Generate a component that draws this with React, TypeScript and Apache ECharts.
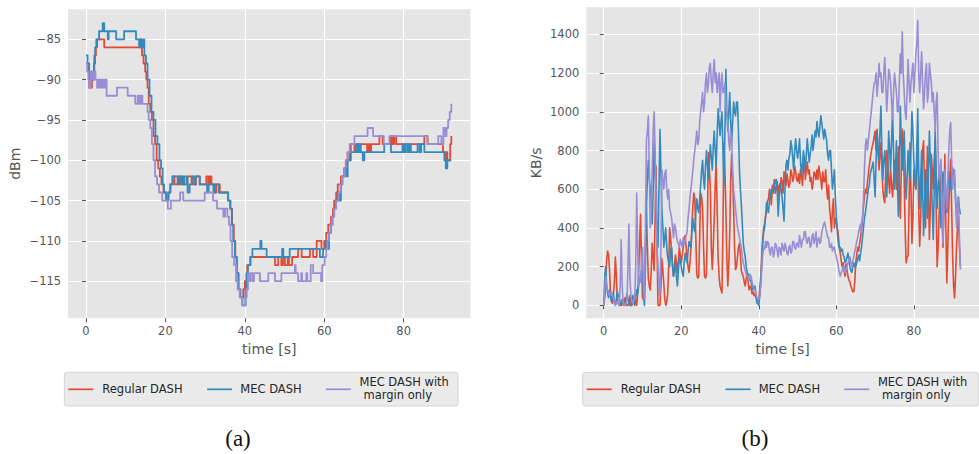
import React, { useEffect, useRef } from 'react';
import * as echarts from 'echarts';

// ---------- axis ticks ----------
const TIME_TICKS = [0, 20, 40, 60, 80];
const RSSI_TICKS = [-115, -110, -105, -100, -95, -90, -85];
const RATE_TICKS = [0, 200, 400, 600, 800, 1000, 1200, 1400];

const SERIES_NAMES = ['Regular DASH', 'MEC DASH', 'MEC DASH with margin only'];
const COLORS = ['#E24A33', '#348ABD', '#988ED5'];

// ---------- (a) signal strength, change points [time s, dBm] ----------
const rssiRegular: [number, number][] = [
  [0, -88], [0.5, -89], [0.8, -91], [1.5, -90], [1.8, -89], [2.1, -87], [2.5, -86], [2.8, -85], [4.6, -86],
  [13.5, -85], [13.8, -86], [14.1, -87], [14.5, -88], [14.9, -89], [15.2, -90], [15.5, -91], [15.8, -93],
  [16.2, -94], [16.6, -95], [17.0, -97], [17.4, -98], [17.8, -100], [18.2, -101], [18.6, -102], [19.0, -103],
  [19.5, -104], [20.2, -105], [20.8, -104], [21.3, -103], [21.8, -102], [22.3, -103], [23.1, -102], [23.6, -103],
  [24.0, -102], [24.4, -103], [25.6, -102], [26.9, -103], [27.7, -102], [28.6, -103], [30.3, -102], [30.8, -103],
  [31.2, -102], [31.6, -103], [32.4, -104], [32.8, -103], [33.7, -104], [35.8, -105], [36.4, -106], [36.8, -108],
  [37.2, -110], [37.6, -112], [38.0, -114], [38.4, -116], [38.8, -117], [39.6, -116], [40.0, -115], [40.2, -117],
  [40.4, -114], [40.6, -113], [41.4, -112], [47.6, -113], [48.4, -112], [49.2, -113], [49.6, -112], [50.1, -113],
  [50.8, -112], [51.1, -113], [51.9, -112], [53.4, -111], [54.3, -112], [56.4, -111], [57.2, -112], [58.1, -110],
  [59.3, -111], [60.0, -110], [60.5, -109], [61.0, -108], [61.7, -107], [62.2, -106], [62.5, -105], [63.0, -104],
  [63.4, -103], [64.2, -102], [65.0, -101], [65.5, -100], [66.3, -99], [66.7, -98], [67.6, -99], [68.2, -98],
  [70.8, -99], [71.1, -98], [71.4, -99], [71.8, -98], [73.9, -97], [74.7, -98], [76.8, -97], [77.2, -98],
  [77.6, -97], [78.1, -98], [85.2, -97], [86.0, -98], [89.9, -99], [90.3, -100], [90.6, -99], [91.0, -100],
  [91.7, -98], [92.0, -97],
];

const rssiMec: [number, number][] = [
  [0, -87], [0.4, -88], [0.8, -89], [1.2, -90], [1.5, -89], [1.7, -90], [2.0, -88], [2.3, -86], [2.6, -85],
  [3.3, -84], [4.2, -83], [4.6, -84], [5.5, -85], [5.7, -84], [7.6, -85], [9.6, -84], [12.6, -85], [13.4, -86],
  [13.7, -85], [14.1, -86], [14.4, -85], [14.7, -87], [15.1, -88], [15.5, -90], [16.0, -92], [16.5, -94],
  [17.0, -95], [17.5, -97], [18.0, -98], [18.5, -100], [18.9, -101], [19.3, -103], [19.7, -104], [20.2, -105],
  [20.7, -104], [21.2, -103], [21.8, -102], [23.1, -103], [23.6, -102], [24.4, -103], [24.8, -102], [25.4, -103],
  [25.6, -104], [26.1, -103], [26.6, -102], [27.3, -103], [27.6, -102], [28.7, -103], [30.5, -104], [30.9, -103],
  [32.1, -104], [32.5, -103], [33.4, -104], [35.8, -105], [36.3, -106], [36.7, -108], [37.1, -110], [37.5, -112],
  [37.9, -114], [38.4, -116], [38.9, -117], [39.4, -118], [40.2, -116], [40.5, -114], [40.8, -113], [41.4, -112],
  [41.9, -111], [43.9, -110], [44.2, -111], [45.5, -112], [49.4, -111], [49.7, -112], [51.3, -111], [58.9, -112],
  [59.7, -111], [60.4, -110], [60.8, -111], [61.2, -109], [61.7, -108], [62.1, -107], [62.5, -106], [62.9, -105],
  [63.4, -104], [63.8, -105], [64.2, -103], [64.6, -102], [65.0, -101], [65.5, -102], [65.9, -100], [66.7, -99],
  [68.0, -98], [68.4, -99], [68.8, -98], [69.2, -99], [69.7, -100], [70.1, -99], [75.1, -98], [76.8, -99],
  [79.7, -98], [80.1, -99], [80.5, -98], [81.0, -99], [81.4, -98], [81.8, -99], [83.5, -98], [84.0, -99],
  [84.4, -98], [85.2, -99], [90.3, -100], [90.6, -101], [91.0, -100], [92.0, -100],
];

const rssiMargin: [number, number][] = [
  [0, -88], [0.3, -89], [0.6, -90], [0.8, -91], [1.2, -89], [1.6, -90], [2.0, -89], [2.4, -90], [2.8, -91],
  [3.2, -90], [3.6, -91], [4.0, -90], [4.4, -91], [4.8, -90], [5.2, -92], [7.8, -91], [10.5, -92], [12.4, -93],
  [13.0, -92], [13.4, -93], [13.8, -92], [14.2, -93], [15.5, -94], [15.8, -95], [16.2, -96], [16.6, -98],
  [17.0, -100], [17.4, -102], [17.9, -103], [18.4, -104], [19.2, -105], [20.6, -106], [21.4, -105], [23.7, -104],
  [24.5, -105], [29.9, -104], [32.0, -105], [33.0, -106], [34.6, -107], [35.0, -106], [35.6, -107], [36.0, -108],
  [36.4, -110], [36.8, -112], [37.3, -113], [37.8, -115], [38.2, -116], [38.7, -117], [39.3, -118], [40.1, -117],
  [40.4, -116], [40.8, -114], [41.2, -115], [41.5, -114], [42.0, -115], [42.3, -114], [43.8, -115], [45.9, -114],
  [47.6, -115], [49.2, -114], [52.6, -113], [52.8, -114], [53.4, -115], [54.2, -114], [54.4, -115], [55.5, -114],
  [55.7, -115], [56.6, -113], [57.2, -114], [59.2, -115], [59.5, -113], [60.1, -112], [60.5, -111], [60.8, -110],
  [61.2, -109], [61.6, -108], [62.0, -107], [62.5, -106], [63.0, -105], [63.6, -104], [64.1, -103], [64.5, -102],
  [65.0, -101], [65.4, -100], [65.8, -99], [66.4, -98], [67.6, -97], [70.9, -96], [72.3, -97], [75.0, -98],
  [76.4, -97], [86.0, -98], [88.7, -97], [89.5, -98], [90.0, -96], [90.4, -97], [90.8, -96], [91.2, -95],
  [91.6, -94], [92.0, -93],
];

// ---------- (b) throughput in KB/s, one sample every 0.25 s (rows of 5 s) ----------
const SAMPLE_STEP = 0.25;

const rateRegular = [
  0, 40, 110, 230, 280, 260, 180, 60, 20, 10, 60, 120, 250, 150, 30, 10, 0, 0, 10, 30,
  0, 20, 40, 10, 0, 0, 20, 50, 0, 0, 10, 30, 60, 20, 0, 60, 170, 330, 470, 200,
  40, 30, 90, 300, 510, 300, 140, 100, 80, 180, 320, 250, 180, 450, 720, 300, 0, 0, 0, 100,
  240, 180, 110, 30, 0, 20, 60, 200, 400, 350, 280, 200, 150, 210, 260, 220, 170, 230, 300, 260,
  220, 260, 300, 340, 360, 300, 250, 200, 170, 220, 300, 420, 520, 580, 550, 350, 160, 140, 150, 350,
  580, 560, 500, 300, 150, 140, 160, 450, 790, 700, 600, 300, 185, 300, 450, 620, 740, 500, 250, 150,
  100, 80, 64, 400, 840, 700, 500, 250, 100, 200, 380, 650, 780, 650, 500, 300, 185, 200, 250, 300,
  320, 260, 180, 160, 150, 120, 100, 140, 170, 120, 80, 100, 90, 60, 70, 50, 60, 40, 30, 20,
  30, 80, 150, 250, 340, 400, 420, 460, 480, 540, 550, 600, 580, 520, 620, 600, 650, 580, 600, 640,
  565, 620, 600, 660, 640, 580, 690, 640, 620, 680, 650, 610, 630, 700, 680, 640, 660, 720, 690, 650,
  640, 680, 630, 700, 670, 620, 700, 760, 650, 700, 740, 680, 700, 640, 660, 600, 630, 690, 680, 650,
  700, 650, 720, 680, 650, 600, 690, 640, 640, 700, 600, 550, 620, 500, 450, 380, 500, 550, 400, 450,
  430, 400, 370, 300, 270, 230, 200, 220, 180, 150, 215, 180, 150, 130, 120, 100, 85, 70, 70, 120,
  220, 260, 300, 280, 320, 350, 400, 450, 510, 560, 600, 580, 630, 680, 720, 760, 790, 820, 840, 870,
  900, 800, 910, 800, 700, 780, 840, 700, 600, 550, 530, 700, 800, 750, 650, 580, 700, 620, 560, 650,
  750, 700, 600, 700, 820, 600, 450, 700, 910, 800, 650, 400, 220, 250, 255, 500, 840, 600, 320, 450,
  700, 650, 600, 750, 820, 500, 305, 450, 650, 800, 850, 600, 400, 600, 820, 600, 340, 500, 780, 700,
  600, 750, 860, 500, 200, 300, 450, 600, 700, 500, 300, 500, 780, 400, 115, 300, 500, 650, 755, 500,
  250, 100, 38, 150, 300, 400, 460, 300, 200,
];

const rateMec = [
  0, 150, 200, 100, 60, 40, 80, 50, 20, 40, 60, 20, 0, 30, 70, 50, 40, 10, 0, 20,
  30, 10, 0, 20, 60, 30, 10, 0, 0, 20, 50, 20, 0, 40, 80, 60, 100, 130, 150, 180,
  200, 50, 0, 200, 500, 650, 750, 650, 600, 500, 420, 600, 850, 700, 500, 400, 300, 600, 910, 700,
  500, 400, 300, 350, 400, 300, 250, 220, 200, 280, 300, 200, 150, 180, 220, 150, 100, 180, 250, 230,
  200, 170, 150, 220, 270, 240, 220, 280, 330, 310, 300, 380, 450, 400, 380, 480, 550, 500, 480, 550,
  620, 700, 750, 650, 600, 720, 800, 720, 650, 750, 830, 760, 700, 820, 900, 800, 720, 880, 1015, 950,
  877, 950, 1000, 800, 620, 900, 1220, 1000, 900, 1000, 1100, 950, 840, 950, 1050, 1000, 980, 1050, 1050, 900,
  700, 600, 520, 420, 320, 280, 250, 200, 170, 160, 150, 130, 120, 100, 80, 90, 100, 60, 12, 10,
  0, 50, 120, 220, 320, 380, 400, 460, 530, 500, 480, 540, 570, 600, 600, 580, 620, 640, 650, 600,
  460, 550, 630, 600, 560, 500, 435, 600, 720, 750, 700, 760, 780, 850, 820, 760, 700, 800, 860, 800,
  760, 800, 860, 750, 670, 720, 800, 750, 700, 780, 860, 800, 740, 780, 820, 880, 800, 850, 900, 870,
  950, 900, 870, 920, 980, 940, 900, 860, 910, 880, 850, 780, 750, 800, 800, 700, 600, 650, 700, 560,
  460, 380, 320, 300, 300, 280, 290, 260, 250, 220, 230, 250, 270, 230, 200, 180, 170, 200, 220, 200,
  200, 220, 240, 260, 230, 270, 300, 350, 400, 450, 480, 520, 560, 600, 620, 680, 700, 720, 740, 650,
  560, 750, 900, 800, 750, 900, 1030, 800, 650, 750, 800, 700, 560, 700, 900, 800, 700, 850, 1000, 800,
  600, 700, 850, 650, 460, 700, 1030, 850, 700, 800, 900, 700, 550, 650, 800, 700, 650, 800, 1000, 900,
  750, 650, 600, 800, 1015, 700, 500, 650, 800, 600, 360, 500, 700, 600, 450, 650, 900, 750, 650, 500,
  340, 600, 910, 700, 500, 600, 700, 550, 400, 550, 690, 600, 550, 500, 480, 600, 690, 650, 600, 650,
  710, 680, 650, 550, 460, 520, 560, 500, 470,
];

const rateMargin = [
  0, 80, 150, 100, 80, 60, 50, 70, 70, 50, 40, 20, 0, 10, 20, 10, 0, 100, 340, 100,
  20, 0, 0, 10, 30, 200, 420, 150, 50, 20, 10, 30, 30, 200, 580, 300, 100, 150, 120, 200,
  300, 100, 30, 400, 850, 900, 980, 700, 400, 500, 700, 900, 1000, 800, 550, 300, 200, 100, 50, 300,
  700, 650, 600, 680, 700, 600, 550, 600, 500, 480, 450, 400, 350, 420, 400, 360, 330, 320, 300, 340,
  320, 300, 350, 320, 330, 360, 380, 450, 500, 560, 600, 650, 700, 760, 800, 850, 900, 830, 850, 950,
  1000, 1050, 1100, 1000, 1050, 1150, 1200, 1100, 1150, 1230, 1250, 1150, 1100, 1200, 1270, 1150, 1200, 1100, 1150, 1200,
  1000, 1150, 1200, 1100, 1100, 1150, 1050, 980, 950, 850, 800, 900, 850, 700, 600, 550, 500, 450, 400, 380,
  350, 320, 300, 250, 220, 200, 180, 160, 150, 140, 130, 160, 150, 120, 100, 90, 80, 60, 40, 30,
  30, 50, 100, 180, 260, 300, 290, 330, 300, 330, 320, 280, 260, 300, 300, 250, 270, 320, 310, 280,
  250, 300, 290, 260, 320, 300, 280, 320, 300, 270, 260, 300, 310, 270, 280, 330, 330, 300, 290, 320,
  320, 300, 360, 330, 300, 340, 340, 380, 380, 330, 320, 350, 350, 300, 310, 360, 370, 320, 340, 380,
  300, 340, 350, 320, 330, 380, 400, 420, 430, 400, 380, 350, 350, 300, 300, 320, 280, 300, 300, 270,
  250, 230, 200, 170, 150, 170, 180, 200, 200, 170, 180, 200, 220, 240, 250, 220, 200, 230, 250, 280,
  300, 330, 350, 380, 400, 420, 380, 450, 550, 700, 830, 860, 800, 850, 900, 950, 1000, 1050, 1100, 1150,
  1150, 1200, 1080, 1150, 1250, 1180, 1200, 1100, 1100, 1200, 1280, 1150, 1000, 1100, 1220, 1200, 1150, 1050, 960, 1100,
  1200, 1150, 1100, 1000, 1000, 1150, 1300, 1200, 1413, 1200, 1100, 1000, 960, 1100, 1270, 1150, 1050, 1150, 1200, 1250,
  1100, 1200, 1300, 1350, 1473, 1200, 1100, 1200, 1310, 1150, 1015, 1100, 1200, 1250, 1050, 1100, 1250, 1200, 1150, 1050,
  1100, 1000, 900, 1050, 1100, 800, 650, 700, 755, 500, 320, 500, 700, 600, 500, 650, 800, 900, 945, 750,
  600, 650, 700, 550, 400, 500, 550, 350, 185,
];

const withTime = (values: number[]) => values.map((v, i) => [i * SAMPLE_STEP, v]);

const FONT = 'DejaVu Sans';
const TICK_COLOR = '#555555';

function valueAxis(gridIndex: number, min: number, max: number, ticks: number[], name: string, nameGap: number) {
  return {
    type: 'value',
    gridIndex,
    min,
    max,
    name,
    nameLocation: 'middle',
    nameGap,
    nameTextStyle: { color: TICK_COLOR, fontSize: 14, fontFamily: FONT },
    axisLine: { show: false },
    axisTick: { show: true, length: 4, customValues: ticks, lineStyle: { color: TICK_COLOR, width: 1 } },
    axisLabel: {
      color: TICK_COLOR,
      fontSize: 11.5,
      fontFamily: FONT,
      margin: 7,
      customValues: ticks,
      formatter: (v: number) => String(v).replace('-', '\u2212'),
    },
    splitLine: { show: true, lineStyle: { color: '#FFFFFF', width: 1.2 } },
  };
}

function legendGraphic(x0: number, boxWidth: number) {
  const y0 = 372.3;
  const midY = 389.3;
  const text = (x: number, y: number, s: string) => ({
    type: 'text',
    x,
    y,
    style: { text: s, fill: '#262626', font: `11.5px "${FONT}"`, textVerticalAlign: 'middle' },
  });
  const sample = (x: number, color: string) => ({
    type: 'line',
    shape: { x1: x, y1: midY, x2: x + 25, y2: midY },
    style: { stroke: color, lineWidth: 1.7 },
  });
  return [
    {
      type: 'rect',
      shape: { x: x0, y: y0, width: boxWidth, height: 33.7, r: 2.5 },
      style: { fill: '#EAEAEA', stroke: '#D4D4D4', lineWidth: 1 },
    },
    sample(x0 + 4, COLORS[0]),
    text(x0 + 38, midY, SERIES_NAMES[0]),
    sample(x0 + 142.8, COLORS[1]),
    text(x0 + 176, midY, SERIES_NAMES[1]),
    sample(x0 + 261.5, COLORS[2]),
    text(x0 + 295.2, 381.7, 'MEC DASH with'),
    text(x0 + 299.2, 395.2, 'margin only'),
  ];
}

function caption(cx: number, s: string) {
  return {
    type: 'text',
    x: cx,
    y: 438,
    style: {
      text: s,
      fill: '#111111',
      font: '23px "Liberation Serif"',
      textAlign: 'center',
      textVerticalAlign: 'middle',
    },
  };
}

const App: React.FC = () => {
  const ref = useRef<HTMLDivElement>(null);

  useEffect(() => {
    if (!ref.current) return;
    const chart = echarts.init(ref.current, undefined, { renderer: 'svg' });

    const lineSeries = (name: string, color: string, data: any[], xAxisIndex: number, step: boolean) => ({
      type: 'line',
      name,
      xAxisIndex,
      yAxisIndex: xAxisIndex,
      data,
      step: step ? 'end' : false,
      showSymbol: false,
      symbol: 'none',
      clip: true,
      lineStyle: { color, width: step ? 1.8 : 1.6, join: 'round' },
      itemStyle: { color },
      emphasis: { disabled: true },
    });

    chart.setOption({
      animation: false,
      backgroundColor: '#FFFFFF',
      grid: [
        { left: 68.1, top: 9.3, width: 402.3, height: 309, show: true, backgroundColor: '#E5E5E5', borderWidth: 0 },
        { left: 586.3, top: 7.3, width: 404.8, height: 311, show: true, backgroundColor: '#E5E5E5', borderWidth: 0 },
      ],
      xAxis: [
        { ...valueAxis(0, -4.5, 96.8, TIME_TICKS, 'time [s]', 24) },
        { ...valueAxis(1, -4.5, 96.8, TIME_TICKS, 'time [s]', 24) },
      ],
      yAxis: [
        { ...valueAxis(0, -119.6, -81.28, RSSI_TICKS, 'dBm', 46) },
        { ...valueAxis(1, -67, 1540, RATE_TICKS, 'KB/s', 43) },
      ],
      series: [
        lineSeries(SERIES_NAMES[0], COLORS[0], rssiRegular, 0, true),
        lineSeries(SERIES_NAMES[1], COLORS[1], rssiMec, 0, true),
        lineSeries(SERIES_NAMES[2], COLORS[2], rssiMargin, 0, true),
        lineSeries(SERIES_NAMES[0], COLORS[0], withTime(rateRegular), 1, false),
        lineSeries(SERIES_NAMES[1], COLORS[1], withTime(rateMec), 1, false),
        lineSeries(SERIES_NAMES[2], COLORS[2], withTime(rateMargin), 1, false),
      ],
      graphic: [
        ...legendGraphic(64.3, 393.7),
        ...legendGraphic(582.7, 395.6),
        caption(238, '(a)'),
        caption(755, '(b)'),
      ],
    });

    return () => chart.dispose();
  }, []);

  return (
    <div
      ref={ref}
      style={{ position: 'fixed', left: 0, top: 0, width: 979, height: 454, overflow: 'hidden' }}
    />
  );
};

export default App;
